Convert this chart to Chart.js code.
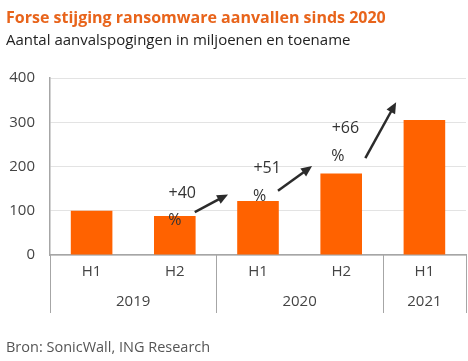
<!DOCTYPE html>
<html>
<head>
<meta charset="utf-8">
<script src="https://cdn.jsdelivr.net/npm/chart.js@4"></script>
<style>
  html, body { margin: 0; padding: 0; background: #fff; }
  #wrap { width: 468px; height: 361px; }
</style>
</head>
<body>
<div id="wrap"><canvas id="myChart" width="468" height="361"></canvas></div>
<script>
const categories = ['H1', 'H2', 'H1', 'H2', 'H1'];
const years = ['2019', '2020', '2021'];
const yearSpans = [2, 2, 1];
const attempts = [100, 88, 122, 184, 305];
const growthLabels = ['+40', '+51', '+66'];
const yTicks = [0, 100, 200, 300, 400];

const titleText = 'Forse stijging ransomware aanvallen sinds 2020';
const subtitleText = 'Aantal aanvalspogingen in miljoenen en toename';
const sourceText = 'Bron: SonicWall, ING Research';

const FONT = "'Open Sans', sans-serif";
const ORANGE = '#ff6200';

// where the growth notes and arrows sit (category index, value)
const notes = [
  { text: [1.09, 140], pct: [1.0, 79], from: [1.24, 97], to: [1.64, 137] },
  { text: [2.11, 196], pct: [2.02, 133], from: [2.24, 145], to: [2.65, 201] },
  { text: [3.05, 287], pct: [2.96, 223], from: [3.29, 219], to: [3.66, 345] },
];

const extras = {
  id: 'extras',
  afterDraw(chart) {
    const ctx = chart.ctx;
    const x = chart.scales.x, y = chart.scales.y;
    const area = chart.chartArea;
    ctx.save();

    // titles
    ctx.textBaseline = 'middle';
    ctx.textAlign = 'left';
    ctx.fillStyle = '#e8641b';
    ctx.font = 'bold 16px ' + FONT;
    ctx.fillText(titleText, 6, 18);
    ctx.fillStyle = '#222';
    ctx.font = '15px ' + FONT;
    ctx.fillText(subtitleText, 6, 41);
    ctx.fillStyle = '#555';
    ctx.font = '14.5px ' + FONT;
    ctx.fillText(sourceText, 6, 348);

    // year separators and labels
    const sepBottom = area.bottom + 58;
    ctx.strokeStyle = '#a6a6a6';
    ctx.lineWidth = 1;
    let start = 0;
    const bounds = [start];
    yearSpans.forEach(s => { start += s; bounds.push(start); });
    bounds.forEach(b => {
      const px = Math.round(x.getPixelForValue(b - 0.5)) + 0.5;
      ctx.beginPath();
      ctx.moveTo(px, area.bottom);
      ctx.lineTo(px, sepBottom);
      ctx.stroke();
    });
    ctx.fillStyle = '#444';
    ctx.font = '15px ' + FONT;
    ctx.textAlign = 'center';
    years.forEach((yr, i) => {
      const mid = (bounds[i] + bounds[i + 1] - 1) / 2;
      ctx.fillText(yr, x.getPixelForValue(mid), area.bottom + 47);
    });

    // growth notes
    ctx.fillStyle = '#333';
    ctx.font = '16px ' + FONT;
    notes.forEach((n, i) => {
      ctx.fillText(growthLabels[i], x.getPixelForValue(n.text[0]), y.getPixelForValue(n.text[1]));
      ctx.fillText('%', x.getPixelForValue(n.pct[0]), y.getPixelForValue(n.pct[1]));

      const x0 = x.getPixelForValue(n.from[0]), y0 = y.getPixelForValue(n.from[1]);
      const x1 = x.getPixelForValue(n.to[0]), y1 = y.getPixelForValue(n.to[1]);
      const ang = Math.atan2(y1 - y0, x1 - x0);
      const head = 12;
      ctx.strokeStyle = '#2b2b2b';
      ctx.lineWidth = 2.5;
      ctx.beginPath();
      ctx.moveTo(x0, y0);
      ctx.lineTo(x1 - Math.cos(ang) * head * 0.8, y1 - Math.sin(ang) * head * 0.8);
      ctx.stroke();
      ctx.fillStyle = '#2b2b2b';
      ctx.beginPath();
      ctx.moveTo(x1, y1);
      ctx.lineTo(x1 - head * Math.cos(ang - 0.42), y1 - head * Math.sin(ang - 0.42));
      ctx.lineTo(x1 - head * Math.cos(ang + 0.42), y1 - head * Math.sin(ang + 0.42));
      ctx.closePath();
      ctx.fill();
      ctx.fillStyle = '#333';
    });
    ctx.restore();
  }
};

const data = {
  labels: categories,
  datasets: [{
    label: 'Aanvalspogingen',
    data: attempts,
    backgroundColor: ORANGE,
    borderWidth: 0,
    categoryPercentage: 1.0,
    barPercentage: 0.5,
  }]
};

const config = {
  type: 'bar',
  data: data,
  options: {
    responsive: false,
    animation: false,
    layout: { padding: { top: 78, right: 2, bottom: 48, left: 0 } },
    plugins: {
      legend: { display: false },
      tooltip: { enabled: false },
      title: { display: false },
    },
    scales: {
      x: {
        grid: { display: false, drawTicks: false },
        border: { color: '#a6a6a6', width: 1.5 },
        ticks: { color: '#444', font: { family: FONT, size: 15 }, padding: 8 },
        afterFit(scale) { scale.height = 58; }
      },
      y: {
        min: 0,
        max: 400,
        afterBuildTicks(scale) { scale.ticks = yTicks.map(v => ({ value: v })); },
        grid: { color: '#e3e3e3', drawTicks: false },
        border: { color: '#a6a6a6', width: 1.5 },
        ticks: { color: '#444', font: { family: FONT, size: 15 }, padding: 15 },
        afterFit(scale) { scale.width = 50; }
      }
    }
  },
  plugins: [extras]
};

const myChart = new Chart(document.getElementById('myChart').getContext('2d'), config);
</script>
</body>
</html>
